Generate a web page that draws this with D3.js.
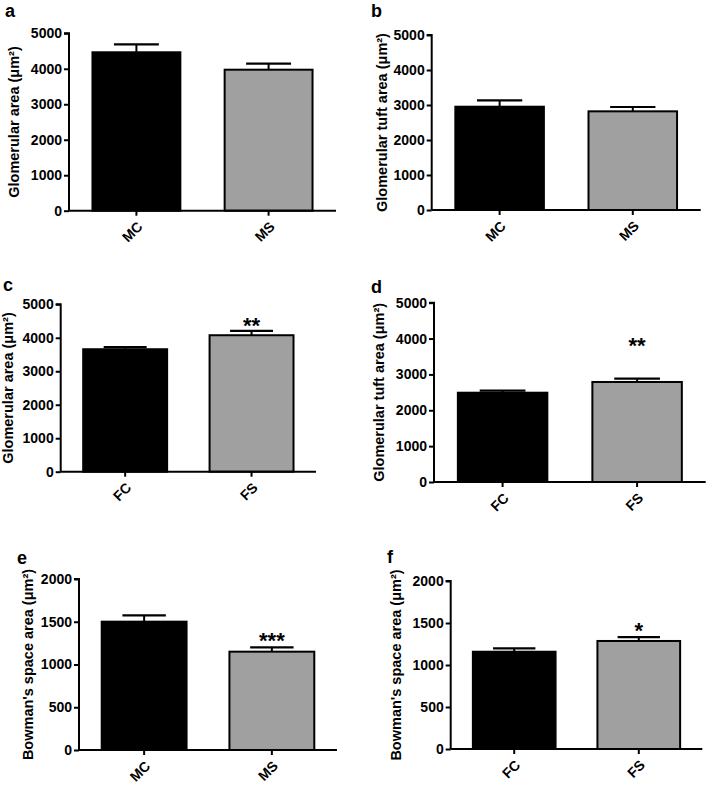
<!DOCTYPE html>
<html>
<head>
<meta charset="utf-8">
<script src="https://cdn.jsdelivr.net/npm/d3@7"></script>
<style>
  html, body { margin: 0; padding: 0; background: #fff; }
  svg { display: block; }
  text { font-family: Arial, "Liberation Sans", Helvetica, sans-serif; font-weight: bold; fill: #000; }
</style>
</head>
<body>
<svg id="chart" width="709" height="786"></svg>
<script>
// ---------- data ----------
const maleGroups = ["MC", "MS"];
const femaleGroups = ["FC", "FS"];

const glomAreaMale = [4465, 3974];
const glomAreaMaleSem = [225, 169];

const tuftAreaMale = [2951, 2819];
const tuftAreaMaleSem = [183, 124];

const glomAreaFemale = [3658, 4076];
const glomAreaFemaleSem = [60, 129];

const tuftAreaFemale = [2490, 2789];
const tuftAreaFemaleSem = [56, 92];

const bowmanMale = [1501, 1150];
const bowmanMaleSem = [74, 51];

const bowmanFemale = [1158, 1286];
const bowmanFemaleSem = [41, 47];

const sigGlomFemale = ["", "**"];
const sigTuftFemale = ["", "**"];
const sigBowmanMale = ["", "***"];
const sigBowmanFemale = ["", "*"];
const sigNone = ["", ""];

const areaTicks = [0, 1000, 2000, 3000, 4000, 5000];
const bowmanTicks = [0, 500, 1000, 1500, 2000];

const titleGlom = "Glomerular area (\u03bcm\u00b2)";
const titleTuft = "Glomerular tuft area (\u03bcm\u00b2)";
const titleBowman = "Bowman's space area (\u03bcm\u00b2)";

// ---------- layout (positions only) ----------
const panels = [
  { label: "a", lx: 5,   ly: 17,  x0: 69,    x1: 336,   yTop: 33.3, yBot: 210.7, tx: 13.5, cats: maleGroups,   vals: glomAreaMale,   sem: glomAreaMaleSem,   sig: sigNone,         ticks: areaTicks,   title: titleGlom,   sigOff: 11 },
  { label: "b", lx: 371, ly: 17,  x0: 431.7, x1: 700.7, yTop: 35,   yBot: 210,   tx: 382,  cats: maleGroups,   vals: tuftAreaMale,   sem: tuftAreaMaleSem,   sig: sigNone,         ticks: areaTicks,   title: titleTuft,   sigOff: 11 },
  { label: "c", lx: 3,   ly: 291, x0: 60.7,  x1: 316,   yTop: 304.3,yBot: 471.7, tx: 8,    cats: femaleGroups, vals: glomAreaFemale, sem: glomAreaFemaleSem, sig: sigGlomFemale,   ticks: areaTicks,   title: titleGlom,   sigOff: 10 },
  { label: "d", lx: 371, ly: 293, x0: 434,   x1: 705.7, yTop: 302.7,yBot: 482,   tx: 379,  cats: femaleGroups, vals: tuftAreaFemale, sem: tuftAreaFemaleSem, sig: sigTuftFemale,   ticks: areaTicks,   title: titleTuft,   sigOff: 38 },
  { label: "e", lx: 17,  ly: 564, x0: 79,    x1: 337,   yTop: 579,  yBot: 750,   tx: 28,   cats: maleGroups,   vals: bowmanMale,     sem: bowmanMaleSem,     sig: sigBowmanMale,   ticks: bowmanTicks, title: titleBowman, sigOff: 11 },
  { label: "f", lx: 387, ly: 563, x0: 450.7, x1: 702.3, yTop: 581,  yBot: 749,   tx: 396,  cats: femaleGroups, vals: bowmanFemale,   sem: bowmanFemaleSem,   sig: sigBowmanFemale, ticks: bowmanTicks, title: titleBowman, sigOff: 11 }
];

const fills = ["#000000", "#a0a0a0"];
const svg = d3.select("#chart");

panels.forEach(p => {
  const g = svg.append("g");
  const yMax = d3.max(p.ticks);
  const y = d3.scaleLinear().domain([0, yMax]).range([p.yBot, p.yTop]);
  const x = d3.scaleBand().domain(p.cats).range([p.x0, p.x1]).paddingInner(0.32).paddingOuter(0.17);

  const rows = p.cats.map((c, i) => ({ c, v: p.vals[i], e: p.sem[i], s: p.sig[i], fill: fills[i] }));

  // bars
  g.selectAll("rect.bar").data(rows).join("rect")
    .attr("class", "bar")
    .attr("x", d => x(d.c) + 1)
    .attr("y", d => y(d.v))
    .attr("width", x.bandwidth() - 2)
    .attr("height", d => y(0) - y(d.v))
    .attr("fill", d => d.fill)
    .attr("stroke", "#000")
    .attr("stroke-width", 2);

  // error bars
  const cw = x.bandwidth() / 2;
  g.selectAll("line.err").data(rows).join("line")
    .attr("class", "err")
    .attr("x1", d => x(d.c) + x.bandwidth() / 2)
    .attr("x2", d => x(d.c) + x.bandwidth() / 2)
    .attr("y1", d => y(d.v))
    .attr("y2", d => y(d.v + d.e))
    .attr("stroke", "#000").attr("stroke-width", 2);
  g.selectAll("line.cap").data(rows).join("line")
    .attr("class", "cap")
    .attr("x1", d => x(d.c) + x.bandwidth() / 2 - cw / 2)
    .attr("x2", d => x(d.c) + x.bandwidth() / 2 + cw / 2)
    .attr("y1", d => y(d.v + d.e))
    .attr("y2", d => y(d.v + d.e))
    .attr("stroke", "#000").attr("stroke-width", 2.2);

  // significance
  g.selectAll("text.sig").data(rows.filter(d => d.s)).join("text")
    .attr("class", "sig")
    .attr("x", d => x(d.c) + x.bandwidth() / 2)
    .attr("y", d => y(d.v + d.e) - p.sigOff + 12)
    .attr("text-anchor", "middle")
    .style("font-size", "22px")
    .text(d => d.s);

  // y axis
  const ya = g.append("g")
    .attr("transform", `translate(${p.x0},0)`)
    .call(d3.axisLeft(y).tickValues(p.ticks).tickSize(5).tickPadding(2).tickFormat(d3.format("d")));
  ya.select(".domain").attr("stroke-width", 2).attr("d", `M-5,${p.yTop}H0V${p.yBot}`);
  ya.selectAll(".tick line").attr("stroke-width", 2);
  ya.selectAll(".tick text").style("font-size", "14px").style("font-family", "Arial, 'Liberation Sans', sans-serif").style("font-weight", "bold");

  // x axis
  const xa = g.append("g")
    .attr("transform", `translate(0,${p.yBot})`)
    .call(d3.axisBottom(x).tickSize(5).tickSizeOuter(0));
  xa.select(".domain").attr("stroke-width", 2).attr("d", `M${p.x0},0H${p.x1}`);
  xa.selectAll(".tick line").attr("stroke-width", 2);
  xa.selectAll(".tick text")
    .style("font-size", "14px").style("font-family", "Arial, 'Liberation Sans', sans-serif").style("font-weight", "bold")
    .attr("text-anchor", "end")
    .attr("dy", null)
    .attr("y", 0)
    .attr("transform", "translate(7,17) rotate(-45)");

  // y title
  g.append("text")
    .attr("transform", `translate(${p.tx},${(p.yTop + p.yBot) / 2}) rotate(-90)`)
    .attr("text-anchor", "middle")
    .attr("dominant-baseline", "central")
    .style("font-size", "14.5px")
    .text(p.title);

  // panel label
  g.append("text")
    .attr("x", p.lx).attr("y", p.ly)
    .style("font-size", "18px")
    .text(p.label);
});
</script>
</body>
</html>
